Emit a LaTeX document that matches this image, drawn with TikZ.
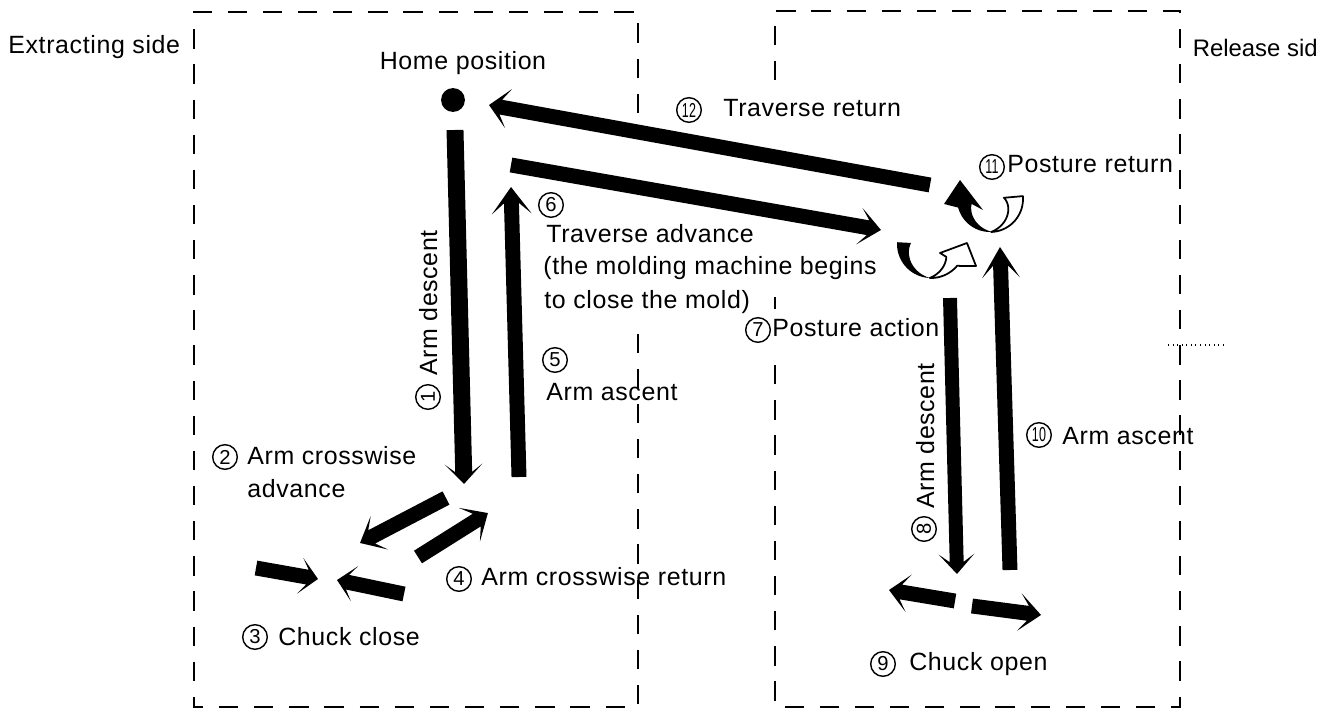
\documentclass[tikz,border=0pt]{standalone}
\usepackage{fontspec}
\usepackage{graphicx}
\setmainfont{Liberation Sans}[LetterSpace=2.5]
\usetikzlibrary{calc}
\newcommand\two[1]{\scalebox{0.62}[1]{#1}}
\makeatletter
% fat arrow from named tail to named tip: #3 shaft width, #4 head length, #5 head width (all in px)
\newcommand\fatarrow[5]{%
  \pgfpointdiff{\pgfpointanchor{#1}{center}}{\pgfpointanchor{#2}{center}}%
  \edef\fadx{\the\pgf@x}\edef\fady{\the\pgf@y}%
  \pgfmathsetmacro\faang{atan2(\fady,\fadx)}%
  \pgfmathsetmacro\falen{veclen(\fadx,\fady)}%
  \pgfmathsetmacro\fas{#3*0.5669/2}%
  \pgfmathsetmacro\fahl{#4*0.5669}%
  \pgfmathsetmacro\fahw{#5*0.5669/2}%
  \pgfmathsetmacro\fab{\falen-\fahl}%
  \pgfmathsetmacro\faj{\falen-0.6*\fahl}%
  \fill[shift={(#1)}, rotate=\faang] (0pt,-\fas pt) -- (\faj pt,-\fas pt) -- (\fab pt,-\fahw pt) -- (\falen pt,0pt) -- (\fab pt,\fahw pt) -- (\faj pt,\fas pt) -- (0pt,\fas pt) -- cycle;
}
\makeatother
\begin{document}
\begin{tikzpicture}[x=0.02cm, y=-0.02cm,
  every node/.style={font=\fontsize{14.2pt}{17pt}\selectfont, inner sep=0pt},
  lbl/.style={anchor=base west},
  circnum/.style={circle, draw, line width=0.8pt, minimum size=14pt, inner sep=0pt,
    font=\fontsize{11.5pt}{12pt}\selectfont},
  boxline/.style={line width=1pt, dash pattern=on 11pt off 9pt}]
\useasboundingbox (0,0) rectangle (1323,713);

% dashed frames
\draw[boxline] (638,113) -- (638,12) -- (194,12) -- (194,707) -- (638,707) -- (638,325);
\draw[boxline] (775,80) -- (775,11) -- (1180,11) -- (1180,707) -- (775,707) -- (775,358);
\draw[line width=1pt] (775,297) -- (775,309);
\draw[line width=0.6pt, dotted] (1168,345) -- (1225,345);

% home dot
\node[circle, fill, minimum size=13.6pt] (home) at (453,100) {};

% arrow end points
\coordinate (a12t) at (930,185);  \coordinate (a12h) at (489,105);
\coordinate (a6t) at (511,165);   \coordinate (a6h) at (881,230);
\coordinate (a1t) at (455,130);   \coordinate (a1h) at (464,484);
\coordinate (a5t) at (519,477);   \coordinate (a5h) at (511,187);
\coordinate (a2t) at (446,498);   \coordinate (a2h) at (360,543);
\coordinate (a4t) at (418,557);   \coordinate (a4h) at (488,513);
\coordinate (a3at) at (256,568);  \coordinate (a3ah) at (318,579);
\coordinate (a3bt) at (404,594);  \coordinate (a3bh) at (337,580);
\coordinate (a8t) at (950,298);   \coordinate (a8h) at (957,574);
\coordinate (a10t) at (1010,570); \coordinate (a10h) at (1000,247);
\coordinate (a9at) at (955,601);  \coordinate (a9ah) at (889,590);
\coordinate (a9bt) at (972,606);  \coordinate (a9bh) at (1041,615);

\fatarrow{a12t}{a12h}{15}{20}{40}
\fatarrow{a6t}{a6h}{15}{22}{37}
\fatarrow{a1t}{a1h}{17}{20}{38}
\fatarrow{a5t}{a5h}{15}{27}{40}
\fatarrow{a2t}{a2h}{15}{22}{38}
\fatarrow{a4t}{a4h}{15}{22}{40}
\fatarrow{a3at}{a3ah}{15}{18}{36}
\fatarrow{a3bt}{a3bh}{15}{18}{36}
\fatarrow{a8t}{a8h}{14}{20}{36}
\fatarrow{a10t}{a10h}{15}{31}{38}
\fatarrow{a9at}{a9ah}{15}{20}{38}
\fatarrow{a9bt}{a9bh}{15}{22}{38}

% posture return (upper twisted arrow)
\filldraw[fill=white, line width=1pt, line join=round]
  plot[domain=-5:88, samples=25] ({990+33*cos(\x)},{199+33*sin(\x)})
  -- plot[domain=88:-5, samples=25] ({990+(33-19*(88-\x)/93)*cos(\x)},{199+(33-19*(88-\x)/93)*sin(\x)}) -- cycle;
\fill plot[domain=86:165, samples=25] ({990+33*cos(\x)},{199+33*sin(\x)})
  -- (944,204) -- (960,180) -- (983,210)
  -- plot[domain=165:86, samples=25] ({990+(19+14*(165-\x)/79)*cos(\x)},{199+(19+14*(165-\x)/79)*sin(\x)}) -- cycle;

% posture action (lower twisted arrow)
\fill plot[domain=183:92, samples=25] ({931+34*cos(\x)},{244+34*sin(\x)})
  -- plot[domain=92:183, samples=25] ({931+(34-14*(\x-92)/91)*cos(\x)},{244+(34-14*(\x-92)/91)*sin(\x)}) -- cycle;
\filldraw[fill=white, line width=1pt, line join=round]
  plot[domain=92:40, samples=25] ({931+34*cos(\x)},{244+34*sin(\x)})
  -- (976,266) -- (967,243) -- (940,253)
  -- plot[domain=40:92, samples=25] ({931+(20+14*(\x-40)/52)*cos(\x)},{244+(20+14*(\x-40)/52)*sin(\x)}) -- cycle;

% labels
\node[lbl] (extr) at (8,54) {Extracting side};
\node[anchor=base] (homet) at (463,70) {Home position};
\node[circnum] (c12) at (689,110) {\two{12}};
\node[lbl] (t12) at (723,117) {Traverse return};
\node[circnum] (c11) at (992,167) {\two{11}};
\node[lbl] (t11) at (1007,173) {Posture return};
\node[circnum] (c6) at (551,205) {6};
\node[lbl] (t6a) at (546,242) {Traverse advance};
\node[lbl] (t6b) at (543,275) {(the molding machine begins};
\node[lbl] (t6c) at (544,308) {to close the mold)};
\node[circnum] (c7) at (758,330) {7};
\node[lbl] (t7) at (772,336) {Posture action};
\node[circnum] (c5) at (555,360) {5};
\node[lbl] (t5) at (546,400) {Arm ascent};
\node[circnum, rotate=90] (c1) at (428,397) {1};
\node[anchor=base, rotate=90] (t1) at (437,303) {Arm descent};
\node[circnum] (c2) at (225,457) {2};
\node[lbl] (t2a) at (247,464) {Arm crosswise};
\node[lbl] (t2b) at (247,497) {advance};
\node[circnum] (c3) at (255,637) {3};
\node[lbl] (t3) at (278,645) {Chuck close};
\node[circnum] (c4) at (459,579) {4};
\node[lbl] (t4) at (481,585) {Arm crosswise return};
\node[circnum, rotate=90] (c8) at (924,529) {8};
\node[anchor=base, rotate=90] (t8) at (934,436) {Arm descent};
\node[circnum] (c10) at (1039,435) {\two{10}};
\node[lbl] (t10) at (1062,444) {Arm ascent};
\node[circnum] (c9) at (883,664) {9};
\node[lbl] (t9) at (909,670) {Chuck open};
\node[anchor=base east, font=\fontsize{13.6pt}{16pt}\selectfont\addfontfeatures{LetterSpace=0}] (rel) at (1318,57) {Release sid};
\end{tikzpicture}
\end{document}
